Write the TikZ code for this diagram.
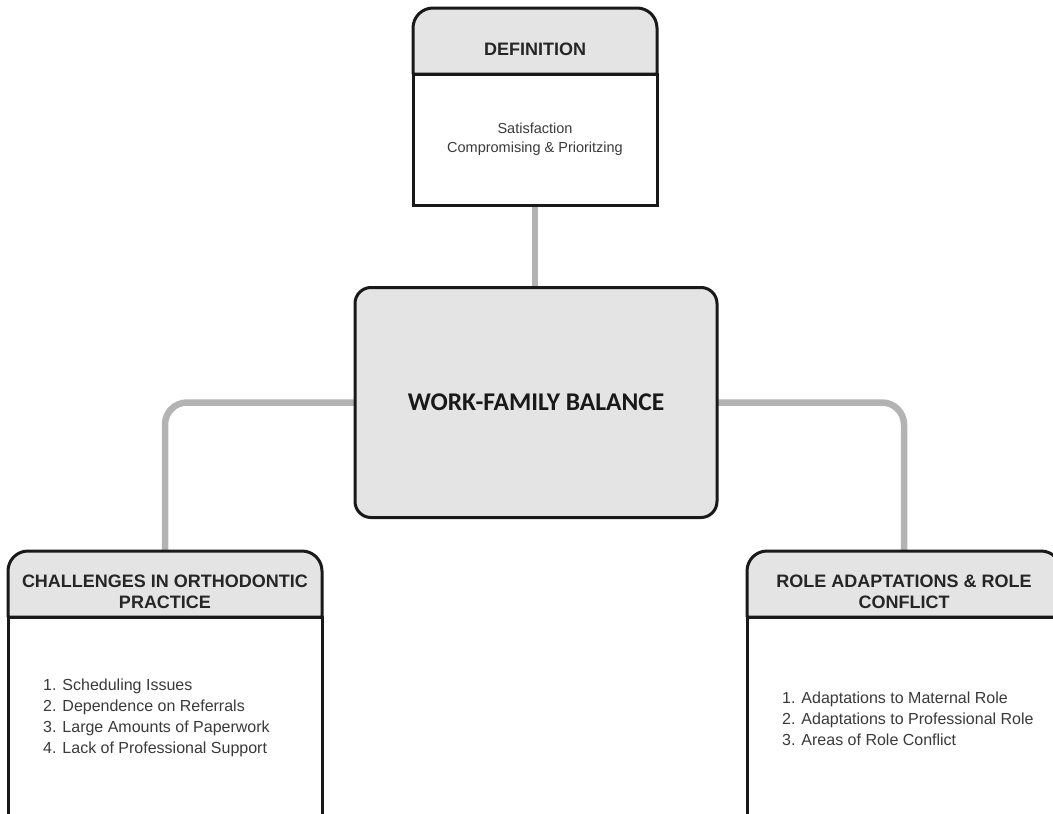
\documentclass[tikz,border=0pt]{standalone}
\usepackage{fontspec}
\setmainfont{Liberation Sans}
\newfontfamily\hubfont{Carlito}
\usetikzlibrary{positioning,backgrounds}

\definecolor{boxgray}{HTML}{E4E4E4}
\definecolor{linkgray}{HTML}{B3B3B3}
\definecolor{textgray}{HTML}{3A3A3A}

\tikzset{
  box/.style={draw=black!90, line width=3pt, fill=white, outer sep=0pt, inner sep=0pt},
  headfill/.style={draw=black!90, fill=boxgray, line width=3pt, line join=round},
  headtext/.style={align=center, text=black!85, inner sep=0pt,
    font=\fontsize{18}{21}\selectfont\bfseries},
  listtext/.style={align=left, text=textgray, inner sep=0pt,
    font=\fontsize{16}{21}\selectfont},
  link/.style={draw=linkgray, line width=6.5pt, rounded corners=22pt},
}

% header strip with round top corners, sitting on a body box
\newcommand\hdrshape[1]{%
  \filldraw[headfill] (#1.north west) -- ([yshift=46pt]#1.north west)
    arc[start angle=180, end angle=90, radius=20pt]
    -- ([xshift=-20pt, yshift=66pt]#1.north east)
    arc[start angle=90, end angle=0, radius=20pt]
    -- (#1.north east) -- cycle;}

\begin{document}
\begin{tikzpicture}[x=1pt, y=1pt]
  \useasboundingbox (0,0) rectangle (1053,-814);

  \node[box, fill=boxgray, rounded corners=16pt, minimum width=362pt, minimum height=230pt,
        font=\hubfont\fontsize{25.5}{30}\selectfont\bfseries, text=black!90] (hub) at (536,-402.5) {WORK-FAMILY BALANCE};

  \node[box, minimum width=244pt, minimum height=131pt, align=center, text=textgray,
        font=\fontsize{14.5}{19}\selectfont] (defbody) at (535,-139.5) {Satisfaction\\Compromising \& Prioritzing};
  \node[box, minimum width=314pt, minimum height=202pt] (chalbody) at (165,-718) {};
  \node[box, minimum width=314pt, minimum height=202pt] (rolebody) at (904,-718) {};

  \node[headtext] (deftitle) at ([yshift=25pt]defbody.north) {DEFINITION};
  \node[headtext] (chaltitle) at ([yshift=25pt]chalbody.north) {CHALLENGES IN ORTHODONTIC\\PRACTICE};
  \node[headtext] (roletitle) at ([yshift=25pt]rolebody.north) {ROLE ADAPTATIONS \& ROLE\\CONFLICT};

  \node[listtext, anchor=west] (challist) at ([xshift=35pt]chalbody.west)
    {1. Scheduling Issues\\2. Dependence on Referrals\\3. Large Amounts of Paperwork\\4. Lack of Professional Support};
  \node[listtext, anchor=west] (rolelist) at ([xshift=35pt, yshift=-1pt]rolebody.west)
    {1. Adaptations to Maternal Role\\2. Adaptations to Professional Role\\3. Areas of Role Conflict};

  \begin{scope}[on background layer]
    \draw[link] (defbody.south) -- (defbody.south |- hub.north);
    \draw[link] (hub.west) -| (chalbody.north);
    \draw[link] (hub.east) -| (rolebody.north);
    \hdrshape{defbody}
    \hdrshape{chalbody}
    \hdrshape{rolebody}
  \end{scope}
\end{tikzpicture}
\end{document}
